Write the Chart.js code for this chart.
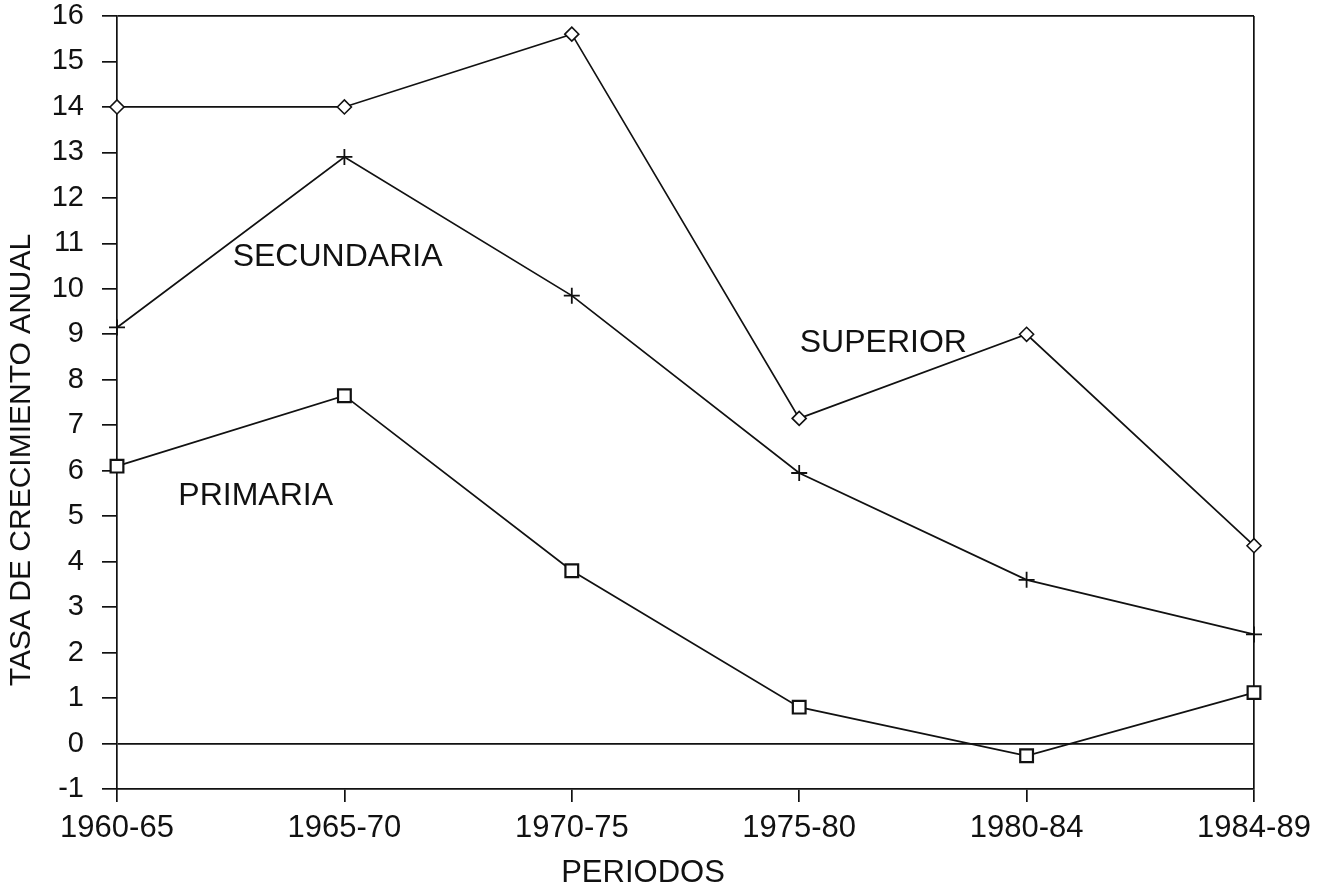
<!DOCTYPE html>
<html>
<head>
<meta charset="utf-8">
<script src="https://cdn.jsdelivr.net/npm/chart.js@4.4.1/dist/chart.umd.min.js"></script>
<style>
  html, body { margin: 0; padding: 0; background: #fff; }
  #wrap { width: 1330px; height: 894px; }
</style>
</head>
<body>
<div id="wrap"><canvas id="myChart"></canvas></div>
<script>
// datos
const periodos = ['1960-65', '1965-70', '1970-75', '1975-80', '1980-84', '1984-89'];
const superior = [14.0, 14.0, 15.6, 7.15, 9.0, 4.35];
const secundaria = [9.15, 12.9, 9.85, 5.95, 3.6, 2.4];
const primaria = [6.1, 7.65, 3.8, 0.8, -0.27, 1.12];
const nombres = ['SUPERIOR', 'SECUNDARIA', 'PRIMARIA'];

const FONT = '"Liberation Sans", Arial, sans-serif';
const black = '#111';

// donde van los rotulos de cada serie (en unidades de los ejes)
const rotulos = [
    { text: nombres[0], x: 3.37, y: 8.8 },
    { text: nombres[1], x: 0.97, y: 10.7 },
    { text: nombres[2], x: 0.61, y: 5.45 }
];

const textPlugin = {
    id: 'textos',
    afterDatasetsDraw(chart) {
        const c = chart.ctx;
        const xs = chart.scales.x, ys = chart.scales.y;
        c.save();
        c.fillStyle = black;
        c.textAlign = 'center';
        c.textBaseline = 'middle';
        c.font = '32px ' + FONT;
        rotulos.forEach(r => {
            c.fillText(r.text, xs.getPixelForValue(r.x), ys.getPixelForValue(r.y));
        });
        // titulos de ejes
        c.font = '31px ' + FONT;
        c.fillText('PERIODOS', 643, 873);
        c.font = '30px ' + FONT;
        c.translate(22, 460);
        c.rotate(-Math.PI / 2);
        c.fillText('TASA DE CRECIMIENTO ANUAL', 0, 0);
        c.restore();
    }
};

const ctx = document.getElementById('myChart');

const data = {
    labels: periodos,
    datasets: [
        {
            label: nombres[0],
            data: superior,
            borderColor: black,
            borderWidth: 1.7,
            pointStyle: 'rectRot',
            pointRadius: 7,
            pointBackgroundColor: '#fff',
            pointBorderColor: black,
            pointBorderWidth: 1.6,
            clip: false
        },
        {
            label: nombres[1],
            data: secundaria,
            borderColor: black,
            borderWidth: 1.7,
            pointStyle: 'cross',
            pointRadius: 8,
            pointBorderColor: black,
            pointBorderWidth: 1.8,
            clip: false
        },
        {
            label: nombres[2],
            data: primaria,
            borderColor: black,
            borderWidth: 1.7,
            pointStyle: 'rect',
            pointRadius: 9,
            pointBackgroundColor: '#fff',
            pointBorderColor: black,
            pointBorderWidth: 2.2,
            clip: false
        }
    ]
};

const config = {
    type: 'line',
    data: data,
    plugins: [textPlugin],
    options: {
        responsive: false,
        animation: false,
        layout: { padding: { top: 16, right: 76, left: 0, bottom: 0 } },
        plugins: {
            legend: { display: false },
            tooltip: { enabled: false }
        },
        elements: { line: { tension: 0 } },
        scales: {
            x: {
                offset: false,
                border: { display: true, color: black, width: 1.7 },
                grid: {
                    color: (c) => c.index === periodos.length - 1 ? black : 'rgba(0,0,0,0)',
                    tickColor: black,
                    lineWidth: 1.7,
                    tickLength: 13
                },
                ticks: {
                    color: black,
                    font: { family: FONT, size: 31 },
                    padding: 8,
                    maxRotation: 0,
                    autoSkip: false
                },
                afterFit(scale) {
                    scale.height = 105;
                    scale.paddingLeft = 0;
                    scale.paddingRight = 0;
                }
            },
            y: {
                min: -1,
                max: 16,
                border: { display: true, color: black, width: 1.7 },
                grid: {
                    color: (c) => (c.tick && (c.tick.value === 0 || c.tick.value === 16)) ? black : 'rgba(0,0,0,0)',
                    tickColor: black,
                    lineWidth: 1.7,
                    tickLength: 15
                },
                ticks: {
                    stepSize: 1,
                    color: black,
                    font: { family: FONT, size: 29 },
                    padding: 18
                },
                afterFit(scale) {
                    scale.width = 117;
                    scale.paddingTop = 0;
                    scale.paddingBottom = 0;
                }
            }
        }
    }
};

ctx.width = 1330;
ctx.height = 894;
var chart = new Chart(ctx, config);
</script>
</body>
</html>
